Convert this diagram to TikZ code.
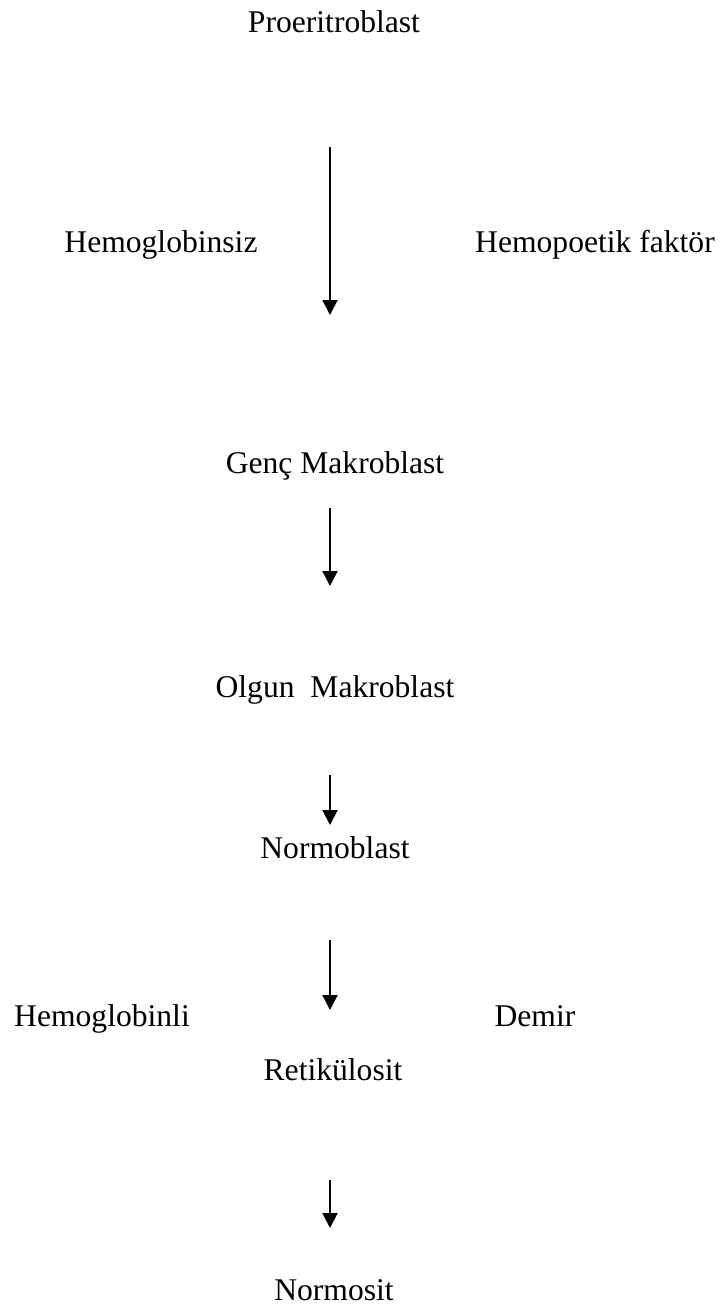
\documentclass[tikz,border=0pt]{standalone}
\usepackage{fontspec}
\setmainfont{Liberation Serif}
\usetikzlibrary{arrows.meta}
\begin{document}
\begin{tikzpicture}[x=1pt,y=-1pt,
  lbl/.style={anchor=base,inner sep=0pt,font=\fontsize{31.6}{38}\selectfont},
  flow/.style={line width=2pt,-{Triangle[width=15pt,length=15pt]}}]
\useasboundingbox (0,0) rectangle (722,1309);
\node[lbl] (pro) at (334,32) {Proeritroblast};
\node[lbl] (hsiz) at (161,252) {Hemoglobinsiz};
\node[lbl] (hfak) at (595,252) {Hemopoetik faktör};
\node[lbl] (genc) at (335,473) {Genç Makroblast};
\node[lbl] (olgun) at (335,697) {Olgun\ \ Makroblast};
\node[lbl] (normob) at (335,858) {Normoblast};
\node[lbl] (hli) at (102,1026) {Hemoglobinli};
\node[lbl] (demir) at (535,1026) {Demir};
\node[lbl] (retik) at (333,1080) {Retikülosit};
\node[lbl] (normos) at (334,1300) {Normosit};
\coordinate (a1s) at (330,147); \coordinate (a1e) at (330,315);
\coordinate (a2s) at (330,508); \coordinate (a2e) at (330,586);
\coordinate (a3s) at (330,775); \coordinate (a3e) at (330,825);
\coordinate (a4s) at (330,940); \coordinate (a4e) at (330,1010);
\coordinate (a5s) at (330,1180); \coordinate (a5e) at (330,1228);
\draw[flow] (a1s) -- (a1e);
\draw[flow] (a2s) -- (a2e);
\draw[flow] (a3s) -- (a3e);
\draw[flow] (a4s) -- (a4e);
\draw[flow] (a5s) -- (a5e);
\end{tikzpicture}
\end{document}
